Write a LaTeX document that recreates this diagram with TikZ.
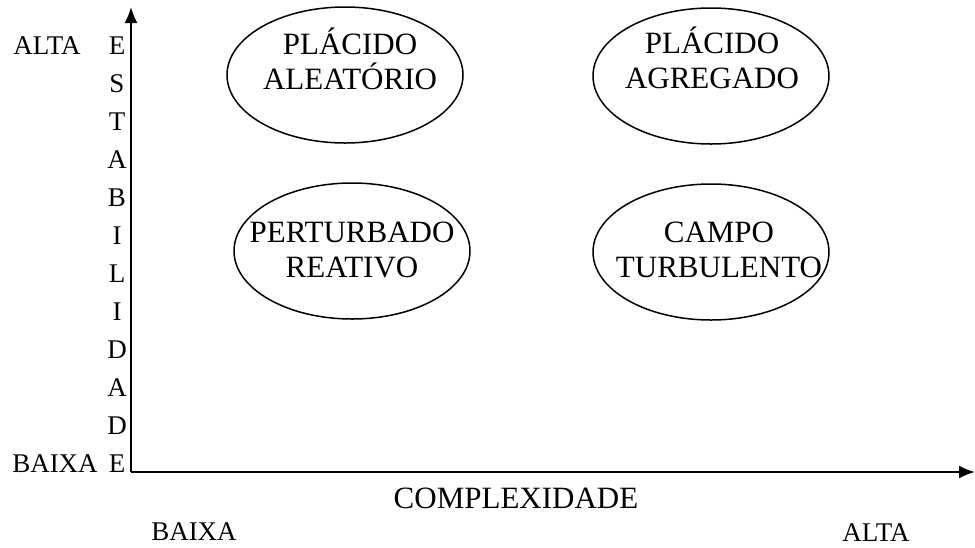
\documentclass[tikz,border=0pt]{standalone}
\usepackage{fontspec}
\setmainfont{Liberation Serif}
\usetikzlibrary{shapes.geometric}
\usetikzlibrary{arrows.meta}

\begin{document}
\begin{tikzpicture}[x=0.5pt,y=-0.5pt,
    environment/.style={draw,ellipse,line width=0.75pt,minimum width=118pt,minimum height=68pt,inner sep=0pt},
    quadrant/.style={align=center,inner sep=0pt,font=\fontsize{15.5}{17.5}\selectfont},
    axislabel/.style={anchor=base,inner sep=0pt,font=\fontsize{13.5}{15}\selectfont},
    axis/.style={line width=1pt,-{Latex[length=8pt,width=6.5pt]}}]
    \useasboundingbox (0,0) rectangle (975,547);

    \coordinate (Origin) at (131,472);
    \coordinate (StabilityEnd) at (131,7);
    \coordinate (ComplexityEnd) at (975,472);
    \draw[axis] (Origin) -- (StabilityEnd);
    \draw[axis] (Origin) -- (ComplexityEnd);

    \foreach \letter [count=\i from 0] in {E,S,T,A,B,I,L,I,D,A,D,E}
        \node[axislabel] (Letter\i) at (117,{54+38*\i}) {\letter};

    \node[axislabel] (HighStability) at (47,54) {ALTA};
    \node[axislabel] (LowStability) at (55,472) {BAIXA};
    \node[axislabel,font=\fontsize{15.5}{17.5}\selectfont] (Complexity) at (516,508) {COMPLEXIDADE};
    \node[axislabel] (LowComplexity) at (194,540) {BAIXA};
    \node[axislabel] (HighComplexity) at (876,541) {ALTA};

    \node[environment] (PlacidoAleatorio) at (345,75) {};
    \node[environment] (PlacidoAgregado) at (711,76) {};
    \node[environment] (PerturbadoReativo) at (352,251) {};
    \node[environment] (CampoTurbulento) at (711,252) {};

    \node[quadrant] (PlacidoAleatorioText) at (350,59) {PLÁCIDO\\ALEATÓRIO};
    \node[quadrant] (PlacidoAgregadoText) at (712,58) {PLÁCIDO\\AGREGADO};
    \node[quadrant] (PerturbadoReativoText) at (352,250) {PERTURBADO\\REATIVO};
    \node[quadrant] (CampoTurbulentoText) at (719,250) {CAMPO\\TURBULENTO};
\end{tikzpicture}
\end{document}
